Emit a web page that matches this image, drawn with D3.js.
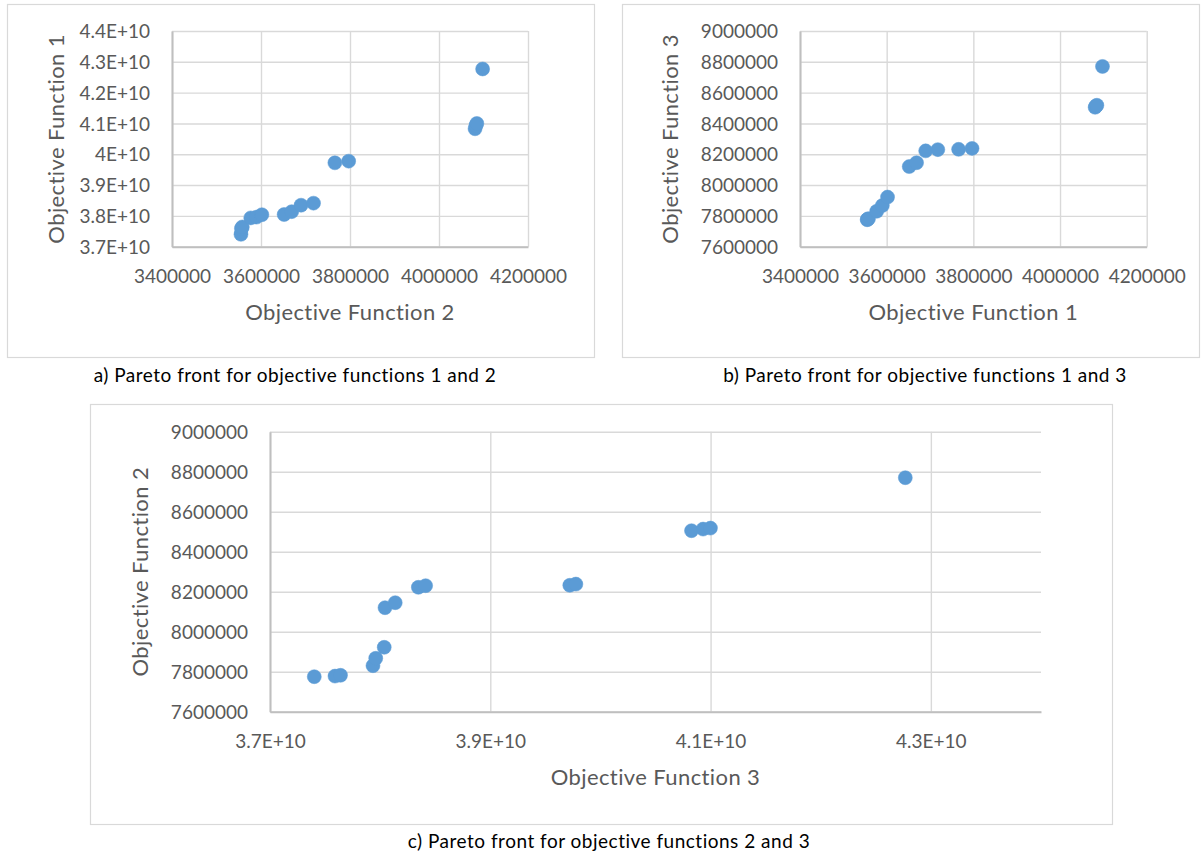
<!DOCTYPE html>
<html><head><meta charset="utf-8">
<script src="https://cdn.jsdelivr.net/npm/d3@7"></script>
<style>
html,body{margin:0;padding:0;background:#fff;}
svg{display:block;font-family:Lato,"Open Sans",sans-serif;}
</style></head>
<body>
<svg id="chart" width="1204" height="854"></svg>
<script>
// Pareto front solutions: three objective values per solution
const objSmall = [3555000,3556000,3558000,3577000,3590000,3602000,3652000,3669000,3690000,3718000,3766000,3797000,4081000,4083000,4085000,4098000];
const objLarge = [3.7402e10,3.759e10,3.764e10,3.7935e10,3.796e10,3.8037e10,3.8044e10,3.8137e10,3.8347e10,3.8413e10,3.9722e10,3.9777e10,4.0827e10,4.0932e10,4.0999e10,4.2768e10];
const objMid   = [7775000,7778000,7782000,7830000,7867000,7922000,8120000,8145000,8222000,8230000,8232000,8238000,8505000,8513000,8518000,8770000];

const ticksMillion = [3400000,3600000,3800000,4000000,4200000];
const labelsMillion = ["3400000","3600000","3800000","4000000","4200000"];
const ticksE10Fine = [3.7e10,3.8e10,3.9e10,4.0e10,4.1e10,4.2e10,4.3e10,4.4e10];
const labelsE10Fine = ["3.7E+10","3.8E+10","3.9E+10","4E+10","4.1E+10","4.2E+10","4.3E+10","4.4E+10"];
const ticksE10Coarse = [3.7e10,3.9e10,4.1e10,4.3e10];
const labelsE10Coarse = ["3.7E+10","3.9E+10","4.1E+10","4.3E+10"];
const ticksMid = [7600000,7800000,8000000,8200000,8400000,8600000,8800000,9000000];
const labelsMid = ["7600000","7800000","8000000","8200000","8400000","8600000","8800000","9000000"];

const captions = [
  "a) Pareto front for objective functions 1 and 2",
  "b) Pareto front for objective functions 1 and 3",
  "c) Pareto front for objective functions 2 and 3"
];
const xTitles = ["Objective Function 2","Objective Function 1","Objective Function 3"];
const yTitles = ["Objective Function 1","Objective Function 3","Objective Function 2"];

const svg = d3.select("#chart");

const panels = [
  {box:[7.5,4.5,587,353], plot:[172,31,528,246.7], xs:objSmall, ys:objLarge,
   xDom:[3400000,4200000], yDom:[3.7e10,4.4e10],
   xt:ticksMillion, xl:labelsMillion, yt:ticksE10Fine, yl:labelsE10Fine,
   yTitleX:56, cap:[295,375], xTitle:xTitles[0], yTitle:yTitles[0], caption:captions[0]},
  {box:[622.5,4.5,577,353], plot:[800,31,1146.7,246.7], xs:objSmall, ys:objMid,
   xDom:[3400000,4200000], yDom:[7600000,9000000],
   xt:ticksMillion, xl:labelsMillion, yt:ticksMid, yl:labelsMid,
   yTitleX:670, cap:[925,375], xTitle:xTitles[1], yTitle:yTitles[1], caption:captions[1]},
  {box:[90.5,404.5,1022,420], plot:[270,431.7,1041,711.7], xs:objLarge, ys:objMid,
   xDom:[3.7e10,4.4e10], yDom:[7600000,9000000],
   xt:ticksE10Coarse, xl:labelsE10Coarse, yt:ticksMid, yl:labelsMid,
   yTitleX:140, cap:[609,841], xTitle:xTitles[2], yTitle:yTitles[2], caption:captions[2]}
];

panels.forEach(p => {
  const g = svg.append("g");
  g.append("rect").attr("x",p.box[0]).attr("y",p.box[1]).attr("width",p.box[2]).attr("height",p.box[3])
    .attr("fill","#fff").attr("stroke","#d9d9d9").attr("stroke-width",1.2);

  const [x0,y0,x1,y1] = p.plot;
  const x = d3.scaleLinear().domain(p.xDom).range([x0,x1]);
  const y = d3.scaleLinear().domain(p.yDom).range([y1,y0]);

  // gridlines
  const gx = d3.axisBottom(x).tickValues(p.xt).tickSize(-(y1-y0)).tickFormat("");
  const gy = d3.axisLeft(y).tickValues(p.yt).tickSize(-(x1-x0)).tickFormat("");
  g.append("g").attr("transform",`translate(0,${y1})`).call(gx)
    .call(s=>s.select(".domain").remove())
    .selectAll("line").attr("stroke","#d9d9d9").attr("stroke-width",1.4);
  g.append("g").attr("transform",`translate(${x0},0)`).call(gy)
    .call(s=>s.select(".domain").remove())
    .selectAll("line").attr("stroke","#d9d9d9").attr("stroke-width",1.4);

  // axis lines and labels
  const ax = d3.axisBottom(x).tickValues(p.xt).tickSize(0).tickPadding(0)
    .tickFormat((d,i)=>p.xl[i]);
  const ay = d3.axisLeft(y).tickValues(p.yt).tickSize(0).tickPadding(0)
    .tickFormat((d,i)=>p.yl[i]);
  const axg = g.append("g").attr("transform",`translate(0,${y1})`).call(ax);
  axg.select(".domain").attr("stroke","#bfbfbf").attr("stroke-width",2);
  axg.selectAll("text").attr("y",30).attr("dy","0.35em").attr("fill","#595959")
    .style("font-size","19px").style("font-family","Lato");
  const ayg = g.append("g").attr("transform",`translate(${x0},0)`).call(ay);
  ayg.select(".domain").attr("stroke","#bfbfbf").attr("stroke-width",2);
  ayg.selectAll("text").attr("x",-22).attr("dy","0.35em").attr("fill","#595959")
    .style("font-size","19px").style("font-family","Lato");

  // titles
  g.append("text").attr("x",(x0+x1)/2).attr("y",y1+66).attr("dy","0.35em")
    .attr("text-anchor","middle").attr("fill","#595959")
    .style("font-size","22px").style("letter-spacing","0.4px").text(p.xTitle);
  g.append("text").attr("transform",`translate(${p.yTitleX},${(y0+y1)/2}) rotate(-90)`)
    .attr("dy","0.35em").attr("text-anchor","middle").attr("fill","#595959")
    .style("font-size","22px").style("letter-spacing","0.4px").text(p.yTitle);

  // points
  g.append("g").selectAll("circle").data(p.xs.map((v,i)=>[v,p.ys[i]])).join("circle")
    .attr("cx",d=>x(d[0])).attr("cy",d=>y(d[1])).attr("r",7)
    .attr("fill","#5b9bd5").attr("stroke","#5b9bd5").attr("stroke-width",0.5);

  // caption
  svg.append("text").attr("x",p.cap[0]).attr("y",p.cap[1]).attr("dy","0.35em")
    .attr("text-anchor","middle").attr("fill","#000")
    .style("font-size","19px").style("letter-spacing","0.5px").text(p.caption);
});
</script>
</body></html>
